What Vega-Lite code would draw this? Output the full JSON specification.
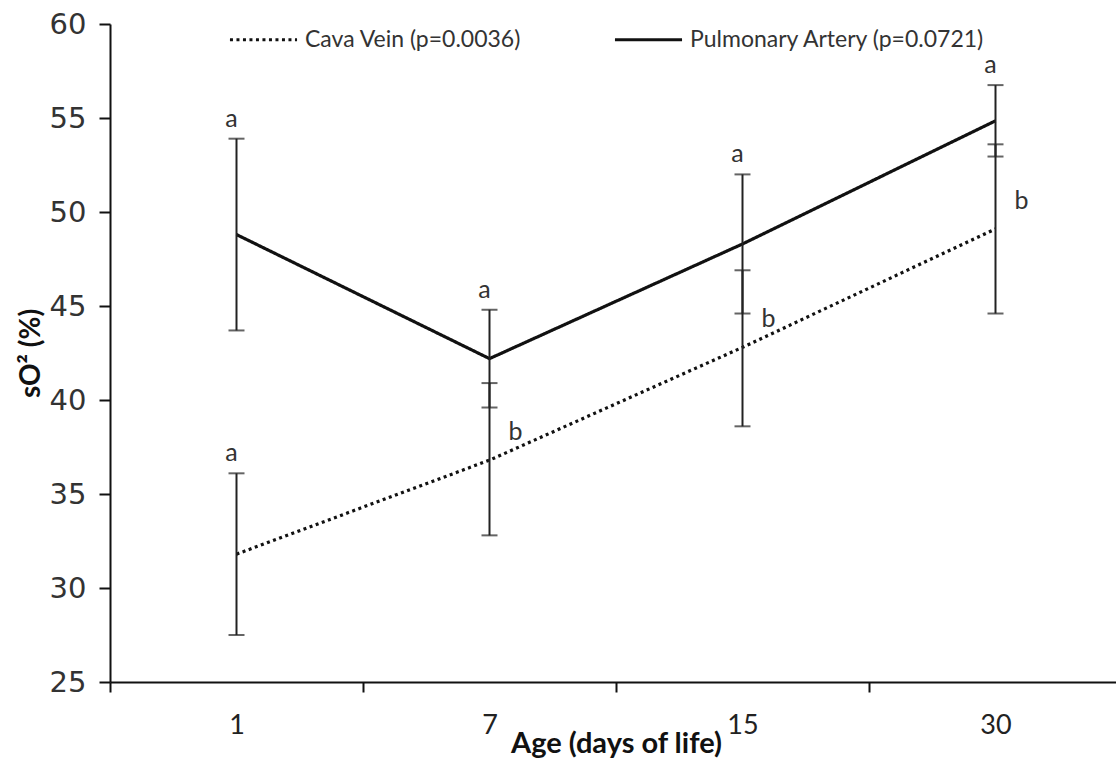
{
  "$schema": "https://vega.github.io/schema/vega-lite/v6.json",
  "autosize": {"type": "none"},
  "padding": {"left": 110, "top": 24, "right": 0, "bottom": 78},
  "width": 1006,
  "height": 658,
  "background": "white",
  "config": {
    "view": {"stroke": null},
    "axis": {"grid": false, "domainColor": "#111", "tickColor": "#111", "domainWidth": 2, "tickWidth": 2}
  },
  "data": {
    "values": [
      {"day": "1", "series": "Pulmonary Artery (p=0.0721)", "mean": 48.8, "lo": 43.7, "hi": 53.9, "letter": "a"},
      {"day": "7", "series": "Pulmonary Artery (p=0.0721)", "mean": 42.2, "lo": 39.6, "hi": 44.8, "letter": "a"},
      {"day": "15", "series": "Pulmonary Artery (p=0.0721)", "mean": 48.3, "lo": 44.6, "hi": 52.0, "letter": "a"},
      {"day": "30", "series": "Pulmonary Artery (p=0.0721)", "mean": 54.85, "lo": 52.95, "hi": 56.75, "letter": "a"},
      {"day": "1", "series": "Cava Vein (p=0.0036)", "mean": 31.8, "lo": 27.5, "hi": 36.1, "letter": "a"},
      {"day": "7", "series": "Cava Vein (p=0.0036)", "mean": 36.8, "lo": 32.8, "hi": 40.9, "letter": "b"},
      {"day": "15", "series": "Cava Vein (p=0.0036)", "mean": 42.8, "lo": 38.6, "hi": 46.9, "letter": "b"},
      {"day": "30", "series": "Cava Vein (p=0.0036)", "mean": 49.1, "lo": 44.6, "hi": 53.6, "letter": "b"}
    ]
  },
  "encoding": {
    "x": {
      "field": "day", "type": "nominal", "sort": ["1", "7", "15", "30"],
      "scale": {"range": [0, 1012], "paddingInner": 0, "paddingOuter": 0},
      "axis": {
        "title": "Age (days of life)", "labelAngle": 0, "tickBand": "extent",
        "labelFont": "Lato", "labelFontSize": 27, "labelColor": "#222", "labelPadding": 20,
        "tickSize": 10, "titleFont": "Lato", "titleFontSize": 29, "titleFontWeight": "bold",
        "titleColor": "#111", "titlePadding": -9
      }
    }
  },
  "layer": [
    {
      "mark": {"type": "line", "color": "#111", "strokeWidth": 3.2},
      "encoding": {
        "y": {
          "field": "mean", "type": "quantitative",
          "scale": {"domain": [25, 60], "nice": false, "zero": false},
          "axis": {
            "title": "sO² (%)", "values": [25, 30, 35, 40, 45, 50, 55, 60],
            "labelFont": "DejaVu Sans", "labelFontSize": 29, "labelColor": "#333",
            "tickSize": 11, "labelPadding": 13,
            "titleFont": "Lato", "titleFontSize": 28, "titleFontWeight": "bold",
            "titleColor": "#111", "titlePadding": 4
          }
        },
        "strokeDash": {
          "field": "series", "type": "nominal",
          "scale": {"domain": ["Cava Vein (p=0.0036)", "Pulmonary Artery (p=0.0721)"], "range": [[3, 3.5], [1, 0]]},
          "legend": {
            "title": null, "orient": "none", "legendX": 118, "legendY": -20, "direction": "horizontal",
            "symbolType": "stroke", "symbolSize": 4500, "symbolStrokeWidth": 3, "symbolStrokeColor": "#111",
            "labelFont": "Lato", "labelFontSize": 23, "labelColor": "#333", "labelOffset": 6, "labelLimit": 0,
            "columnPadding": 86
          }
        }
      }
    },
    {
      "mark": {"type": "rule", "color": "#222", "strokeWidth": 2},
      "encoding": {"y": {"field": "lo", "type": "quantitative"}, "y2": {"field": "hi"}}
    },
    {
      "mark": {"type": "tick", "color": "#222", "thickness": 2, "size": 16},
      "encoding": {"y": {"field": "lo", "type": "quantitative"}}
    },
    {
      "mark": {"type": "tick", "color": "#222", "thickness": 2, "size": 16},
      "encoding": {"y": {"field": "hi", "type": "quantitative"}}
    },
    {
      "transform": [{"filter": "datum.letter === 'a'"}],
      "mark": {"type": "text", "font": "Lato", "fontSize": 25, "color": "#333", "dy": -20, "dx": -5},
      "encoding": {"y": {"field": "hi", "type": "quantitative"}, "text": {"field": "letter"}}
    },
    {
      "transform": [{"filter": "datum.letter === 'b'"}],
      "mark": {"type": "text", "font": "Lato", "fontSize": 25, "color": "#333", "dy": -28, "dx": 26},
      "encoding": {"y": {"field": "mean", "type": "quantitative"}, "text": {"field": "letter"}}
    }
  ]
}
